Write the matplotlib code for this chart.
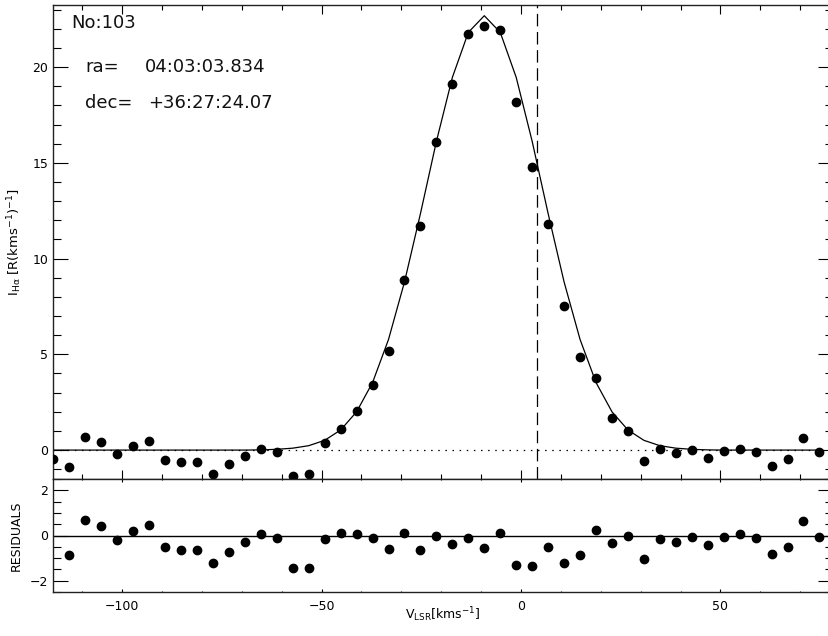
from matplotlib import pyplot as plt
from matplotlib.ticker import MultipleLocator
import numpy as np

# velocity channels [km/s]
vel = [-117.2, -113.2, -109.2, -105.2, -101.2, -97.2, -93.2, -89.2, -85.2, -81.2,
       -77.2, -73.2, -69.2, -65.2, -61.2, -57.2, -53.2, -49.2, -45.2, -41.2,
       -37.2, -33.2, -29.2, -25.2, -21.2, -17.2, -13.2, -9.2, -5.2, -1.2,
       2.8, 6.8, 10.8, 14.8, 18.8, 22.8, 26.8, 30.8, 34.8, 38.8,
       42.8, 46.8, 50.8, 54.8, 58.8, 62.8, 66.8, 70.8, 74.8]

# observed H-alpha intensity
inten = [-0.45, -0.89, 0.68, 0.40, -0.23, 0.19, 0.45, -0.52, -0.61, -0.64,
         -1.23, -0.75, -0.31, 0.05, -0.09, -1.35, -1.23, 0.35, 1.11, 2.05,
         3.40, 5.19, 8.87, 11.68, 16.11, 19.11, 21.75, 22.12, 21.93, 18.18,
         14.76, 11.80, 7.51, 4.87, 3.78, 1.65, 1.02, -0.56, 0.07, -0.17,
         0.00, -0.43, -0.05, 0.07, -0.12, -0.82, -0.49, 0.61, -0.09]

# fitted profile
fit = [0.0, 0.0, 0.0, 0.0, 0.0, 0.0, 0.0, 0.0, 0.0, 0.0,
       0.0, 0.0, 0.0, 0.01, 0.04, 0.10, 0.23, 0.51, 1.05, 2.00,
       3.53, 5.78, 8.78, 12.35, 16.12, 19.46, 21.81, 22.68, 21.81, 19.46,
       16.12, 12.35, 8.78, 5.78, 3.53, 2.00, 1.05, 0.51, 0.23, 0.10,
       0.04, 0.01, 0.0, 0.0, 0.0, 0.0, 0.0, 0.0, 0.0]

# residuals (first channel not plotted)
vel_res = vel[1:]
resid = [-0.88, 0.67, 0.41, -0.21, 0.19, 0.45, -0.53, -0.62, -0.65, -1.21,
         -0.74, -0.30, 0.07, -0.12, -1.43, -1.44, -0.15, 0.09, 0.07, -0.11,
         -0.59, 0.10, -0.66, 0.00, -0.37, -0.10, -0.57, 0.10, -1.29, -1.34,
         -0.52, -1.22, -0.87, 0.26, -0.31, -0.02, -1.06, -0.15, -0.27, -0.05,
         -0.44, -0.07, 0.07, -0.13, -0.81, -0.49, 0.62, -0.07]

v_mark = 4.0
info = ["No:103", "ra=", "04:03:03.834", "dec=", "+36:27:24.07"]

plt.rcParams['font.family'] = ['DejaVu Sans']
plt.rcParams['mathtext.fontset'] = 'dejavusans'

W, H = 829, 636
fig = plt.figure(figsize=(W / 100, H / 100), dpi=100)
L, R = 53, 833
ax = fig.add_axes([L / W, (H - 479) / H, (R - L) / W, 474 / H])
axr = fig.add_axes([L / W, (H - 592) / H, (R - L) / W, 113 / H])

xlim = (-117.3, 78.2)

# top panel
ax.plot(xlim, [0, 0], color='black', lw=0.9, dashes=(1.2, 4.5), zorder=1)
ax.plot(vel, fit, color='black', lw=0.9, zorder=2)
ax.plot(vel, inten, 'o', color='black', ms=6, zorder=3)
ax.axvline(v_mark, color='black', lw=0.9, dashes=(10, 4.5), zorder=2)
ax.set_xlim(*xlim)
ax.set_ylim(-1.51, 23.24)
ax.yaxis.set_major_locator(MultipleLocator(5))
ax.yaxis.set_minor_locator(MultipleLocator(1))
ax.xaxis.set_major_locator(MultipleLocator(50))
ax.xaxis.set_minor_locator(MultipleLocator(10))
ax.tick_params(axis='x', which='major', direction='in', top=True, length=6.8, width=0.8, labelbottom=False)
ax.tick_params(axis='x', which='minor', direction='in', top=True, length=3.4, width=0.8)
ax.tick_params(axis='y', which='major', direction='in', right=True, length=10.8, width=0.8, labelsize=9, pad=3.5)
ax.tick_params(axis='y', which='minor', direction='in', right=True, length=5.6, width=0.8)
ax.set_ylabel(r'I$_{\rm H\alpha}$ [R(kms$^{-1}$)$^{-1}$]', fontsize=9.5)
ax.yaxis.set_label_coords(-0.037, 0.5)

ax.text(0.024, 0.951, info[0], transform=ax.transAxes, fontsize=13, va='baseline', color='#111111')
ax.text(0.041, 0.859, info[1], transform=ax.transAxes, fontsize=13, va='baseline', color='#111111')
ax.text(0.118, 0.859, info[2], transform=ax.transAxes, fontsize=13, va='baseline', color='#111111')
ax.text(0.041, 0.783, info[3], transform=ax.transAxes, fontsize=13, va='baseline', color='#111111')
ax.text(0.122, 0.783, info[4], transform=ax.transAxes, fontsize=13, va='baseline', color='#111111')

# residual panel
axr.plot(xlim, [0, 0], color='black', lw=1.0, zorder=1)
axr.plot(vel_res, resid, 'o', color='black', ms=6, zorder=3)
axr.set_xlim(*xlim)
axr.set_ylim(-2.5, 2.5)
axr.yaxis.set_major_locator(MultipleLocator(2))
axr.yaxis.set_minor_locator(MultipleLocator(0.5))
axr.xaxis.set_major_locator(MultipleLocator(50))
axr.xaxis.set_minor_locator(MultipleLocator(10))
axr.tick_params(axis='x', which='major', direction='in', top=True, length=2, width=0.8, labelsize=9, pad=5.5)
axr.tick_params(axis='x', which='minor', direction='in', top=True, length=1, width=0.8)
axr.tick_params(axis='y', which='major', direction='in', right=True, length=10.8, width=0.8, labelsize=9, pad=3.5)
axr.tick_params(axis='y', which='minor', direction='in', right=True, length=5.6, width=0.8)
axr.set_ylabel('RESIDUALS', fontsize=9)
axr.yaxis.set_label_coords(-0.039, 0.5)
axr.set_xlabel(r'V$_{\rm LSR}$[kms$^{-1}$]', fontsize=9)
axr.xaxis.set_label_coords(0.5, -0.115)

for a in (ax, axr):
    for s in a.spines.values():
        s.set_linewidth(1.0)
        s.set_color('#222222')

fig.savefig('out.png', dpi=100)
